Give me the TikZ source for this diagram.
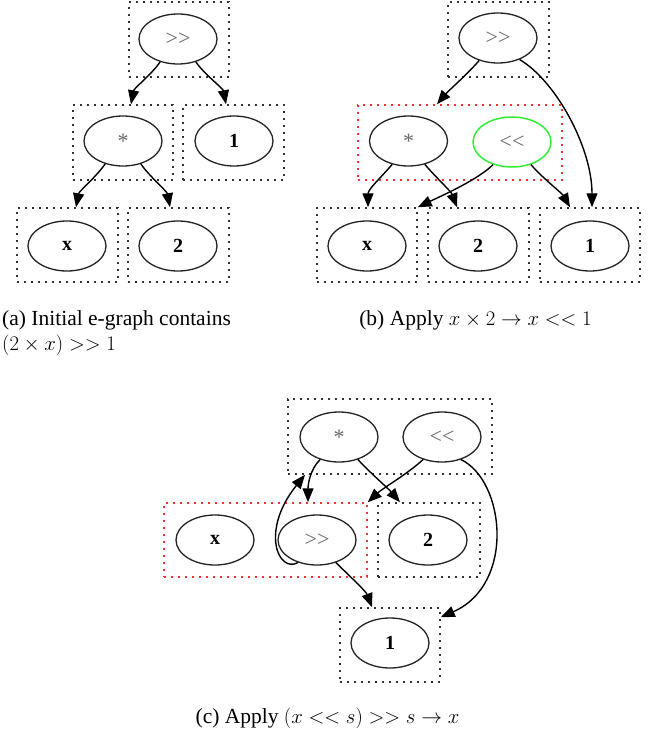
\documentclass[tikz,border=0pt]{standalone}
\usepackage{fontspec}
\setmainfont{Liberation Serif}
\usetikzlibrary{arrows.meta,calc,shapes.geometric}
\definecolor{opgray}{HTML}{6A6A6A}
\definecolor{elline}{HTML}{222222}
\definecolor{boxdot}{HTML}{333333}
\definecolor{newgreen}{HTML}{33EE33}
\definecolor{clred}{HTML}{FF3030}
\newcommand{\gtgt}{>\kern0pt>}
\newcommand{\ltlt}{<\kern0pt<}
\begin{document}
\begin{tikzpicture}[x=1pt,y=-1pt,
  ebox/.style={draw=boxdot, line width=1.5pt, dash pattern=on 1.8pt off 5.2pt,
     minimum height=75pt, inner sep=0pt},
  redbox/.style={ebox, draw=clred},
  enode/.style={ellipse, draw=elline, line width=1.3pt, minimum width=78pt,
     minimum height=50pt, inner sep=0pt, font=\fontsize{20}{20}\selectfont\bfseries},
  opnode/.style={enode, text=opgray, font=\fontsize{22}{22}\selectfont},
  newnode/.style={opnode, draw=newgreen, line width=1.5pt},
  edge/.style={draw=black, line width=1.4pt, -{Triangle[length=14pt,width=11pt]}},
  caption/.style={inner sep=0pt, font=\fontsize{21.5}{25}\selectfont}
]
\useasboundingbox (0,0) rectangle (654,733);

% ---------------- (a)
\node[ebox, minimum width=100pt] (boxA1) at (179,39.5) {};
\node[ebox, minimum width=100pt] (boxA2) at (123,142.5) {};
\node[ebox, minimum width=101pt] (boxA3) at (233.5,142.5) {};
\node[ebox, minimum width=101pt, minimum height=74pt] (boxA4) at (67.5,245) {};
\node[ebox, minimum width=101pt, minimum height=74pt] (boxA5) at (178.5,245) {};
\node[opnode] (nA1) at (178,39) {\gtgt};
\node[opnode] (nA2) at (123,141) {*};
\node[enode] (nA3) at (234,141) {1};
\node[enode] (nA4) at (67,246) {x};
\node[enode] (nA5) at (178,246) {2};
\draw[edge] (nA1.-128) .. controls +(-8,12) and +(3,-16) .. ($(boxA2.north)+(8,0)$);
\draw[edge] (nA1.-52) .. controls +(8,12) and +(-3,-16) .. ($(boxA3.north)+(-7.5,0)$);
\draw[edge] (nA2.-128) .. controls +(-8,12) and +(3,-16) .. ($(boxA4.north)+(8.5,0)$);
\draw[edge] (nA2.-52) .. controls +(8,12) and +(-3,-16) .. ($(boxA5.north)+(-8.5,0)$);
\node[caption, anchor=base west] (capA1) at (2,325) {(a) Initial e-graph contains};
\node[caption, anchor=base west] (capA2) at (2,350) {$(2\times x) >> 1$};

% ---------------- (b)
\node[ebox, minimum width=101pt] (boxB1) at (498.5,39.5) {};
\node[redbox, minimum width=204pt] (boxB2) at (460,142.5) {};
\node[ebox, minimum width=100pt, minimum height=74pt] (boxB3) at (367,245) {};
\node[ebox, minimum width=101pt, minimum height=74pt] (boxB4) at (478.5,245) {};
\node[ebox, minimum width=100pt, minimum height=74pt] (boxB5) at (590,245) {};
\node[opnode] (nB1) at (498,38) {\gtgt};
\node[opnode] (nB2) at (408.5,141) {*};
\node[newnode] (nB3) at (512,142) {\ltlt};
\node[enode] (nB4) at (367,246) {x};
\node[enode] (nB5) at (478,246) {2};
\node[enode] (nB6) at (590,246) {1};
\draw[edge] (nB1.-130) .. controls +(-10,12) and +(10,-12) .. ($(boxB2.north)+(-23,0)$);
\draw[edge] (nB1.-45) .. controls +(36,21) and +(0,-60) .. ($(boxB5.north)+(2,0)$);
\draw[edge] (nB2.-125) .. controls +(-10,12) and +(0,-18) .. ($(boxB3.north)+(1,0)$);
\draw[edge] (nB2.-55) .. controls +(10,12) and +(-6,-16) .. ($(boxB4.north)+(-21.5,0)$);
\draw[edge] (nB3.-130) .. controls +(-15,15) and +(25,-12) .. (boxB3.north east);
\draw[edge] (nB3.-50) .. controls +(10,12) and +(-8,-14) .. ($(boxB5.north)+(-20,0)$);
\node[caption, anchor=base] (capB) at (475.5,325) {(b) Apply $x\times 2\to x << 1$};

% ---------------- (c)
\node[ebox, minimum width=204pt] (boxC1) at (390,436.5) {};
\node[redbox, minimum width=203pt, minimum height=74pt] (boxC2) at (265.5,540) {};
\node[ebox, minimum width=102pt, minimum height=74pt] (boxC3) at (429,540) {};
\node[ebox, minimum width=100pt, minimum height=74pt] (boxC4) at (390,645) {};
\node[opnode] (nC1) at (339,437) {*};
\node[opnode] (nC2) at (442,437) {\ltlt};
\node[enode] (nC3) at (215,540) {x};
\node[opnode] (nC4) at (317,540) {\gtgt};
\node[enode] (nC5) at (428,540) {2};
\node[enode] (nC6) at (390,643) {1};
\draw[edge] (nC1.-130) .. controls +(-10,10) and +(0,-18) .. ($(boxC2.north)+(42.5,0)$);
\draw[edge] (nC4.-130) .. controls +(-20,11) and +(-45,56) .. ($(boxC1.south)+(-85,0)$);
\draw[edge] (nC1.-50) .. controls +(12,13) and +(-12,-14) .. ($(boxC3.north)+(-29,0)$);
\draw[edge] (nC2.-130) .. controls +(-15,14) and +(15,-14) .. (boxC2.north east);
\draw[edge] (nC2.-50) .. controls +(44,21) and +(75,-33) .. ($(boxC4.north east)+(0,10)$);
\draw[edge] (nC4.-50) .. controls +(12,12) and +(-6,-16) .. ($(boxC4.north)+(-18,0)$);
\node[caption, anchor=base] (capC) at (327.5,723) {(c) Apply $(x << s) >> s \to x$};
\end{tikzpicture}
\end{document}
